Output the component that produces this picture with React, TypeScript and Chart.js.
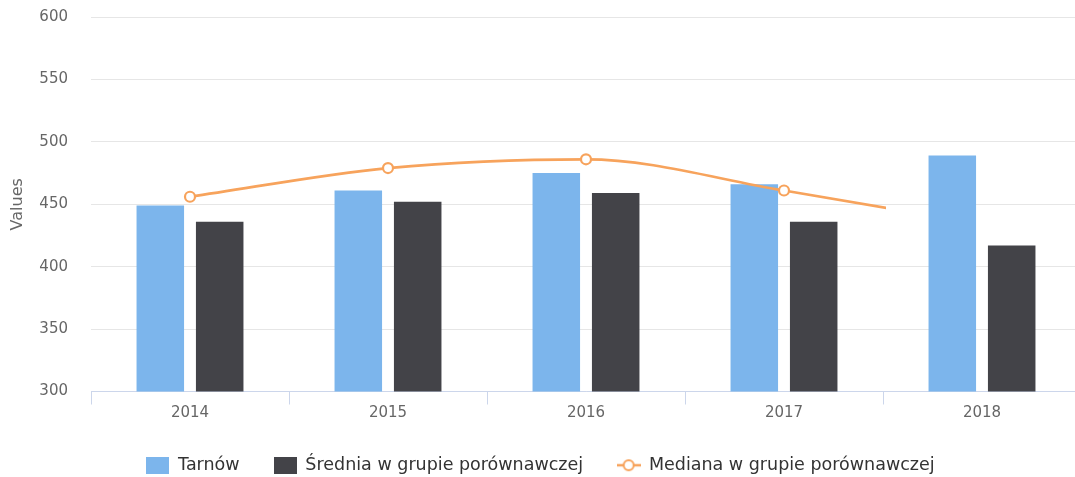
import React, { useEffect, useRef } from 'react';
import { Chart, registerables } from 'chart.js';

Chart.register(...registerables);

const categories = ['2014', '2015', '2016', '2017', '2018'];
const tarnow = [449, 461, 475, 466, 489];
const srednia = [436, 452, 459, 436, 417];
const mediana = [456, 479, 486, 461, 434];
const seriesNames = ['Tarnów', 'Średnia w grupie porównawczej', 'Mediana w grupie porównawczej'];
const yMin = 300;
const yMax = 600;
const yStep = 50;
const yTitle = 'Values';

const BLUE = '#7cb5ec';
const DARK = '#434348';
const ORANGE = '#f7a35c';
const FONT = '"DejaVu Sans", Verdana, sans-serif';

function makeBox(color: string) {
  const c = document.createElement('canvas');
  c.width = 23;
  c.height = 17;
  const g = c.getContext('2d')!;
  g.fillStyle = color;
  g.fillRect(0, 0, 23, 17);
  return c;
}

function makeLineIcon(color: string) {
  const c = document.createElement('canvas');
  c.width = 24;
  c.height = 16;
  const g = c.getContext('2d')!;
  g.strokeStyle = color;
  g.lineWidth = 2.5;
  g.beginPath();
  g.moveTo(0, 8);
  g.lineTo(24, 8);
  g.stroke();
  g.beginPath();
  g.arc(12, 8, 5, 0, Math.PI * 2);
  g.fillStyle = '#ffffff';
  g.fill();
  g.lineWidth = 2;
  g.stroke();
  return c;
}

const revealPlugin = {
  id: 'reveal',
  beforeDatasetDraw(chart: any, args: any, opts: any) {
    if (args.index !== 2) return;
    const { left, right } = chart.chartArea;
    const ctx = chart.ctx;
    ctx.save();
    ctx.beginPath();
    ctx.rect(0, 0, left + (right - left) * opts.fraction, chart.height);
    ctx.clip();
  },
  afterDatasetDraw(chart: any, args: any) {
    if (args.index !== 2) return;
    chart.ctx.restore();
  },
};

export default function App() {
  const ref = useRef<HTMLCanvasElement>(null);

  useEffect(() => {
    const canvas = ref.current!;
    const icons = [makeBox(BLUE), makeBox(DARK), makeLineIcon(ORANGE)];
    const chart = new Chart(canvas, {
      type: 'bar',
      data: {
        labels: categories,
        datasets: [
          {
            type: 'bar',
            label: seriesNames[0],
            data: tarnow,
            backgroundColor: BLUE,
            borderWidth: 0,
            categoryPercentage: 0.6,
            barPercentage: 0.8,
            order: 1,
          },
          {
            type: 'bar',
            label: seriesNames[1],
            data: srednia,
            backgroundColor: DARK,
            borderWidth: 0,
            categoryPercentage: 0.6,
            barPercentage: 0.8,
            order: 1,
          },
          {
            type: 'line',
            label: seriesNames[2],
            data: mediana,
            borderColor: ORANGE,
            backgroundColor: '#ffffff',
            borderWidth: 2.7,
            cubicInterpolationMode: 'monotone',
            pointRadius: 5,
            pointBorderWidth: 2.2,
            pointBorderColor: ORANGE,
            pointBackgroundColor: '#ffffff',
            fill: false,
            clip: false,
            order: 0,
          } as any,
        ],
      },
      options: {
        responsive: false,
        maintainAspectRatio: false,
        animation: false,
        devicePixelRatio: 1,
        layout: { autoPadding: false, padding: { top: 17, left: 0, right: 0, bottom: 0 } },
        plugins: {
          tooltip: { enabled: false },
          reveal: { fraction: 0.803 },
          legend: {
            position: 'bottom',
            labels: {
              usePointStyle: true,
              pointStyleWidth: 23,
              padding: 34,
              color: '#333333',
              font: { family: FONT, size: 17.5 },
              sort: (a: any, b: any) => a.datasetIndex - b.datasetIndex,
              generateLabels: (ch: any) => {
                const items = (Chart as any).defaults.plugins.legend.labels.generateLabels(ch);
                items.forEach((it: any) => {
                  it.pointStyle = icons[it.datasetIndex];
                });
                return items;
              },
            },
          },
        } as any,
        scales: {
          x: {
            offset: true,
            afterFit: (scale: any) => {
              scale.paddingLeft = 0;
              scale.paddingRight = 0;
            },
            grid: {
              display: true,
              offset: true,
              drawOnChartArea: false,
              drawTicks: true,
              tickLength: 13,
              color: '#ccd6eb',
            },
            border: { display: true, color: '#ccd6eb', width: 1 },
            ticks: {
              color: '#666666',
              font: { family: FONT, size: 15 },
              padding: 0,
            },
          },
          y: {
            min: yMin,
            max: yMax,
            afterFit: (scale: any) => {
              scale.width = 91;
            },
            ticks: {
              stepSize: yStep,
              color: '#666666',
              font: { family: FONT, size: 15 },
              padding: 3,
            },
            grid: {
              color: '#e6e6e6',
              drawTicks: true,
              tickLength: 20,
              tickColor: 'rgba(0,0,0,0)',
            },
            border: { display: false },
            title: {
              display: true,
              text: yTitle,
              color: '#666666',
              font: { family: FONT, size: 16 },
              padding: { top: 8, bottom: 4 },
            },
          },
        },
      } as any,
      plugins: [revealPlugin as any],
    });
    return () => chart.destroy();
  }, []);

  return (
    <div
      style={{
        position: 'fixed',
        left: 0,
        top: 0,
        width: 1075,
        height: 477,
        overflow: 'hidden',
        background: '#ffffff',
      }}
    >
      <canvas ref={ref} width={1081} height={484} style={{ display: 'block' }} />
    </div>
  );
}
